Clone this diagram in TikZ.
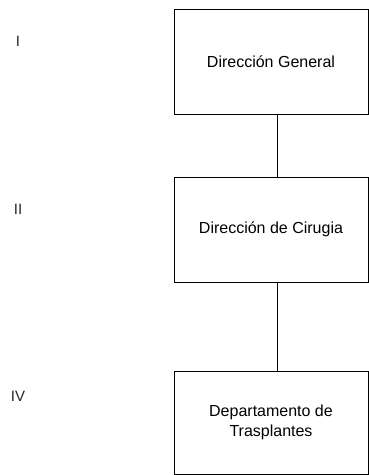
\documentclass[tikz,border=0pt]{standalone}
\usepackage{fontspec}
\setmainfont{Liberation Sans}
\begin{document}
\begin{tikzpicture}[x=1pt,y=-1pt]

      % One box of the organisation chart: plain black frame, text centred
      \tikzstyle{unit}=[draw,line width=0.9pt,minimum width=194pt,align=center,font=\fontsize{16}{20}\selectfont,inner sep=0pt]
      % The level numbers in the left margin
      \tikzstyle{level}=[font=\fontsize{15}{18}\selectfont,inner sep=0pt,text=black!85]
      \tikzstyle{link}=[line width=0.9pt]

      \def\bx{271}     % x of the centre of the boxes
      \def\lx{18}      % x of the level numbers
      \def\dx{6}       % the links sit a little right of the centre

      \useasboundingbox (0,0) rectangle (369,475);

      \node [unit,minimum height=105pt] (general) at (\bx,61.5) {Dirección General};
      \node [unit,minimum height=105pt] (cirugia) at (\bx,229.5) {Dirección de Cirugia};
      \node [unit,minimum height=103pt] (trasplantes) at (\bx,422.5) {Departamento de\\Trasplantes};

      \node [level] (nivelI) at (\lx,41) {I};
      \node [level] (nivelII) at (\lx,209) {II};
      \node [level] (nivelIV) at (\lx,396) {IV};

      \draw [link] ([xshift=\dx]general.south) -- ([xshift=\dx]cirugia.north);
      \draw [link] ([xshift=\dx]cirugia.south) -- ([xshift=\dx]trasplantes.north);

   \end{tikzpicture}
\end{document}
